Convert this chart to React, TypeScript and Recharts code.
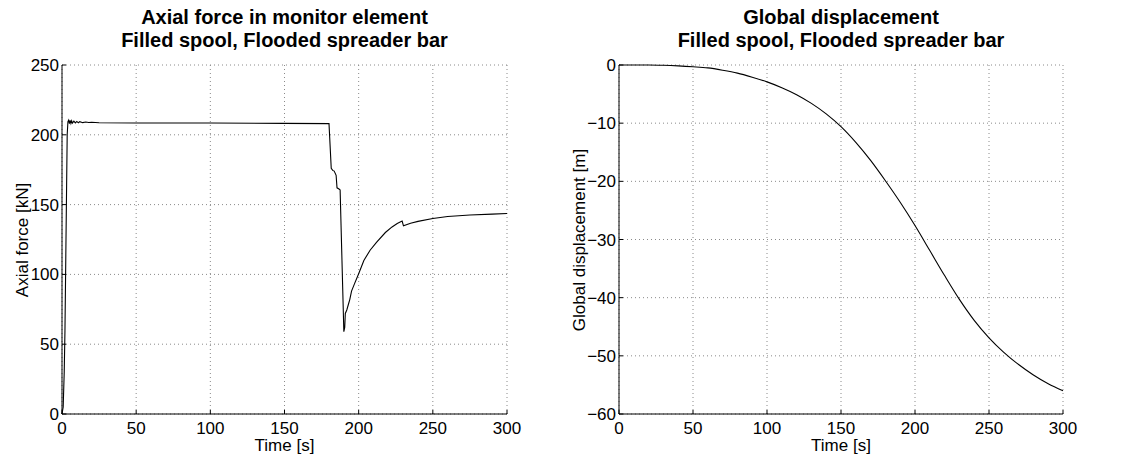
import React from "react";
import { LineChart, Line, XAxis, YAxis, CartesianGrid } from "recharts";

// Left panel: axial force in monitor element [kN] vs time [s]
const forceTime = [
  0, 0.8, 1.5, 2, 3.5, 4, 4.5, 5, 5.5, 6, 6.5, 7, 8, 9, 10, 11, 12, 14, 16, 18, 20, 25, 50, 100, 150,
  180, 181.5, 182.5, 183.5, 184.8, 185.4, 187, 187.5, 190, 190.6, 191, 192, 193.1, 194, 195.2, 197.3,
  200, 203.5, 207.7, 212, 218, 222.5, 226, 229.3, 230.2, 235, 240, 250, 260, 275, 290, 300,
];
const forceValue = [
  0, 5, 30, 60, 200, 209.5, 210.5, 208, 210.3, 208.2, 210, 208.4, 209.8, 208.5, 209.6, 208.6, 209.4,
  208.7, 209.2, 208.8, 209, 208.6, 208.5, 208.4, 208.2,
  208, 176, 174.5, 174, 171, 162, 161, 160.5, 59, 62, 72, 74.5, 78.6, 82, 88, 93.6,
  100.5, 110, 117.3, 123, 130, 134, 136.5, 138.2, 134.8, 136.6, 138, 140, 141.5, 142.5, 143.2, 143.6,
];

// Right panel: global displacement [m] vs time [s]
const dispTime = [
  0, 10, 20, 30, 40, 50, 60, 70, 80, 90, 100, 110, 120, 130, 140, 150, 160, 170, 180, 190, 200,
  210, 220, 230, 240, 250, 260, 270, 280, 290, 300,
];
const dispValue = [
  0, 0, 0, -0.05, -0.15, -0.3, -0.5, -0.9, -1.4, -2.1, -2.9, -3.9, -5.1, -6.6, -8.4, -10.6, -13.3,
  -16.4, -19.9, -23.6, -27.6, -31.9, -36.2, -40.3, -43.9, -46.9, -49.4, -51.5, -53.3, -54.8, -56,
];

const timeTicks = [0, 50, 100, 150, 200, 250, 300];
const forceTicks = [0, 50, 100, 150, 200, 250];
const dispTicks = [-60, -50, -40, -30, -20, -10, 0];

const FONT = "'Liberation Sans', Arial, Helvetica, sans-serif";

const forceData = forceTime.map((t, i) => ({ t, v: forceValue[i] }));
const dispData = dispTime.map((t, i) => ({ t, v: dispValue[i] }));

const tickStyle = { fontSize: 17, fill: "#000", fontFamily: FONT };
const minus = (v: number) => String(v).replace("-", "\u2212");

interface PanelProps {
  left: number;
  width: number;
  plotLeft: number;
  plotRight: number;
  data: { t: number; v: number }[];
  domain: [number, number];
  yTicks: number[];
  title: string[];
  yLabel: string;
  smooth?: boolean;
}

function Panel({ left, width, plotLeft, plotRight, data, domain, yTicks, title, yLabel, smooth }: PanelProps) {
  const height = 459;
  const top = 65;
  const bottom = 414;
  const yAxisW = 50;
  const xAxisH = height - bottom;
  const cx = (plotLeft + plotRight) / 2;
  return (
    <div style={{ position: "absolute", left, top: 0, width, height, fontFamily: FONT, color: "#000" }}>
      <LineChart
        width={width}
        height={height}
        data={data}
        margin={{ top, right: width - plotRight, bottom: 0, left: plotLeft - yAxisW }}
      >
        <CartesianGrid
          stroke="#8a8a8a"
          strokeDasharray="1 3"
          horizontalValues={yTicks}
          verticalValues={timeTicks}
        />
        <XAxis
          dataKey="t"
          type="number"
          domain={[0, 300]}
          ticks={timeTicks}
          height={xAxisH}
          tick={tickStyle}
          tickSize={-4}
          tickMargin={12}
          tickLine={{ stroke: "#000" }}
          axisLine={{ stroke: "#000" }}
          interval={0}
        />
        <YAxis
          type="number"
          domain={domain}
          ticks={yTicks}
          width={yAxisW}
          tick={tickStyle}
          tickSize={-4}
          tickMargin={7}
          tickLine={{ stroke: "#000" }}
          axisLine={{ stroke: "#000" }}
          tickFormatter={minus}
          interval={0}
        />
        <Line
          type={smooth ? "monotone" : "linear"}
          dataKey="v"
          stroke="#000"
          strokeWidth={1.1}
          dot={false}
          activeDot={false}
          isAnimationActive={false}
        />
      </LineChart>
      <div
        style={{
          position: "absolute",
          left: cx,
          top: 6,
          transform: "translateX(-50%)",
          textAlign: "center",
          fontWeight: "bold",
          fontSize: 20,
          lineHeight: "23px",
          whiteSpace: "nowrap",
        }}
      >
        {title.map((s) => (
          <div key={s}>{s}</div>
        ))}
      </div>
      <div
        style={{
          position: "absolute",
          left: cx,
          top: 436,
          transform: "translateX(-50%)",
          fontSize: 17,
          lineHeight: "19px",
          whiteSpace: "nowrap",
        }}
      >
        Time [s]
      </div>
      <div
        style={{
          position: "absolute",
          left: plotLeft - 40,
          top: (top + bottom) / 2,
          transform: "translate(-50%, -50%) rotate(-90deg)",
          fontSize: 17,
          lineHeight: "19px",
          whiteSpace: "nowrap",
        }}
      >
        {yLabel}
      </div>
    </div>
  );
}

export default function App() {
  return (
    <div style={{ position: "absolute", left: 0, top: 0, width: 1121, height: 459, background: "#fff" }}>
      <Panel
        left={0}
        width={560}
        plotLeft={62}
        plotRight={507}
        data={forceData}
        domain={[0, 250]}
        yTicks={forceTicks}
        title={["Axial force in monitor element", "Filled spool, Flooded spreader bar"]}
        yLabel="Axial force [kN]"
      />
      <Panel
        left={560}
        width={561}
        plotLeft={59}
        plotRight={503}
        data={dispData}
        domain={[-60, 0]}
        yTicks={dispTicks}
        title={["Global displacement", "Filled spool, Flooded spreader bar"]}
        yLabel="Global displacement [m]"
        smooth
      />
    </div>
  );
}
